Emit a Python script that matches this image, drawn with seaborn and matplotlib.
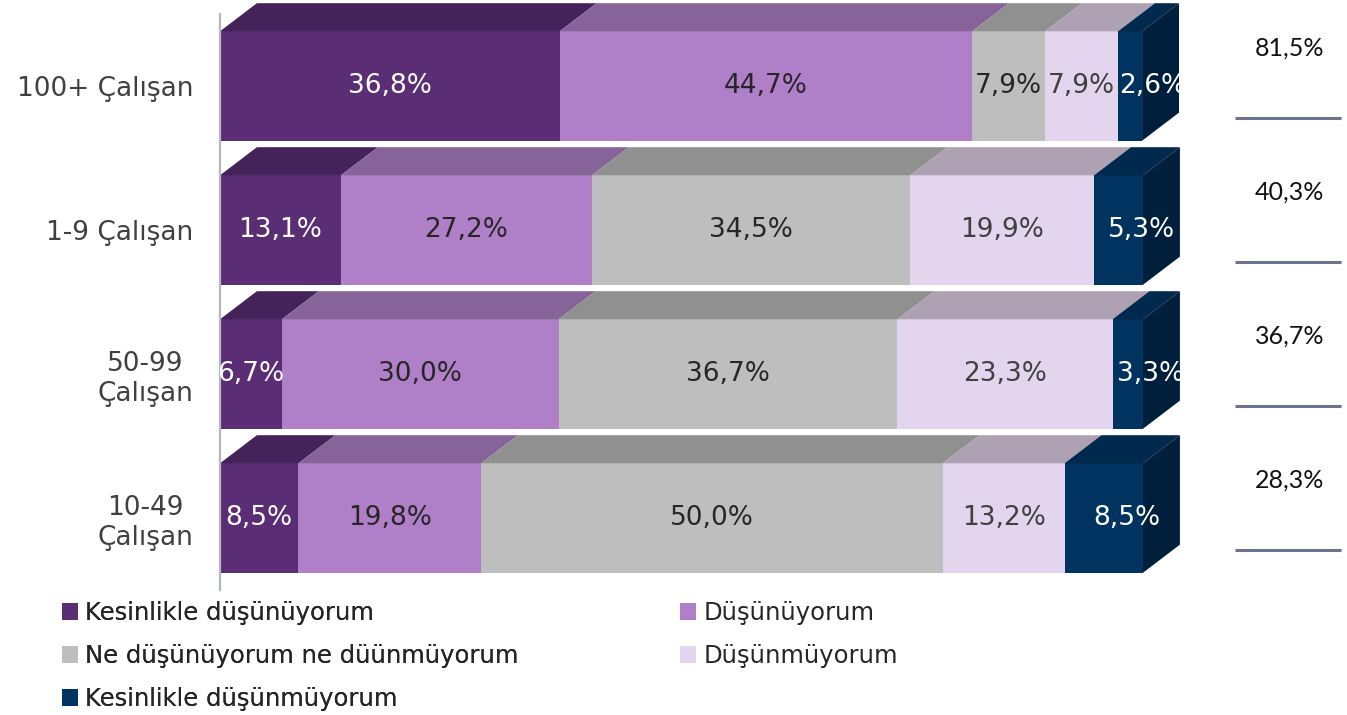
import numpy as np
import pandas as pd
import matplotlib.pyplot as plt
import seaborn as sns
from matplotlib.patches import Polygon, Rectangle, Patch

sns.set_style("white")
plt.rcParams['font.family'] = ['DejaVu Sans']

# Data
categories = ["100+ Çalışan", "1-9 Çalışan", "50-99\nÇalışan", "10-49\nÇalışan"]
answers = ["Kesinlikle düşünüyorum", "Düşünüyorum", "Ne düşünüyorum ne düünmüyorum",
           "Düşünmüyorum", "Kesinlikle düşünmüyorum"]
strongly_agree = [36.8, 13.1, 6.7, 8.5]
agree = [44.7, 27.2, 30.0, 19.8]
neutral = [7.9, 34.5, 36.7, 50.0]
disagree = [7.9, 19.9, 23.3, 13.2]
strongly_disagree = [2.6, 5.3, 3.3, 8.5]
agree_total = [81.5, 40.3, 36.7, 28.3]

front_colors = ["#5B2D74", "#AF7FC8", "#BEBEBE", "#E4D5EE", "#00335F"]
top_colors = ["#43235A", "#866399", "#909090", "#ADA1B3", "#002A4D"]
side_color = "#001F3D"
label_colors = ["white", "#262626", "#262626", "#404040", "white"]

series = [strongly_agree, agree, neutral, disagree, strongly_disagree]
values = np.array(series)            # shape (5, 4)
cum = np.cumsum(values, axis=0)

bar_h = 0.76
dx = 4.0     # depth in x data units
dy = 0.195   # depth in y data units

fig = plt.figure(figsize=(13.47, 7.15), dpi=100)
ax = fig.add_axes([220 / 1347, 125 / 715, 923 / 1347, 576 / 715])

# front faces: cumulative bars drawn from the longest to the shortest
for k in range(4, -1, -1):
    df = pd.DataFrame({"cat": categories, "val": cum[k]})
    sns.barplot(data=df, x="val", y="cat", orient="h", color=front_colors[k],
                saturation=1, width=bar_h, errorbar=None, linewidth=0, ax=ax)

ax.set_xlim(0, 100)
ax.set_ylim(3.5, -0.5)

# 3D top faces, side face, labels
for i in range(len(categories)):
    yt = i - bar_h / 2
    yb = i + bar_h / 2
    clip = Rectangle((0, yt - dy), 100 + dx, bar_h + dy, transform=ax.transData)
    for k in range(5):
        x0 = cum[k - 1][i] if k > 0 else 0
        x1 = cum[k][i]
        ax.add_patch(Polygon([(x0, yt), (x0 + dx, yt - dy), (x1 + dx, yt - dy), (x1, yt)],
                             closed=True, facecolor=top_colors[k], edgecolor="none",
                             clip_on=False))
        # the last segment's label sits over the front and side faces
        xc = (x0 + x1 + dx) / 2 + 0.5 if k == 4 else (x0 + x1) / 2
        txt = ax.text(xc, i, f"{values[k][i]:.1f}".replace(".", ",") + "%",
                      ha="center", va="center", fontsize=19, color=label_colors[k],
                      zorder=5)
        txt.set_clip_path(clip)
    tot = cum[4][i]
    ax.add_patch(Polygon([(tot, yt), (tot + dx, yt - dy), (tot + dx, yb - dy), (tot, yb)],
                         closed=True, facecolor=side_color, edgecolor="none", clip_on=False))

    # right hand summary
    ax.text(115.9, i - 0.26, f"{agree_total[i]:.1f}".replace(".", ",") + "%",
            ha="center", va="center", fontsize=18, color="#111111",
            family="Lato", clip_on=False)
    ax.plot([110.0, 121.4], [i + 0.22, i + 0.22], color="#6B7591", lw=2.2,
            clip_on=False, solid_capstyle="butt")

# axes styling
for s in ["top", "right", "bottom"]:
    ax.spines[s].set_visible(False)
ax.spines["left"].set_color("#B3B7C0")
ax.spines["left"].set_linewidth(1.6)
ax.set_xticks([])
ax.set_xlabel("")
ax.set_ylabel("")
ax.set_yticks(range(len(categories)), labels=categories)
ax.set_yticks([-0.5, 0.5, 1.5, 2.5, 3.5], minor=True)
ax.tick_params(axis="y", which="major", length=0, pad=19, labelsize=19, labelcolor="#404040")
ax.tick_params(axis="y", which="minor", length=6, width=1.6, color="#B3B7C0", direction="out")
for lab in ax.get_yticklabels():
    lab.set_multialignment("center")

# legend in two columns, row-wise order
handles = [Patch(facecolor=c, edgecolor="none") for c in front_colors]
leg_kw = dict(frameon=False, fontsize=17.5, handlelength=0.66, handleheight=0.66,
              handletextpad=0.3, labelspacing=0.78, borderaxespad=0, borderpad=0,
              loc="upper left", labelcolor="#262626")
leg1 = fig.legend([handles[0], handles[2], handles[4]], [answers[0], answers[2], answers[4]],
                  bbox_to_anchor=(62 / 1347, 1 - 601 / 715), **leg_kw)
fig.add_artist(leg1)
fig.legend([handles[1], handles[3]], [answers[1], answers[3]],
           bbox_to_anchor=(680 / 1347, 1 - 601 / 715), **leg_kw)

fig.savefig("out.png", dpi=100)
